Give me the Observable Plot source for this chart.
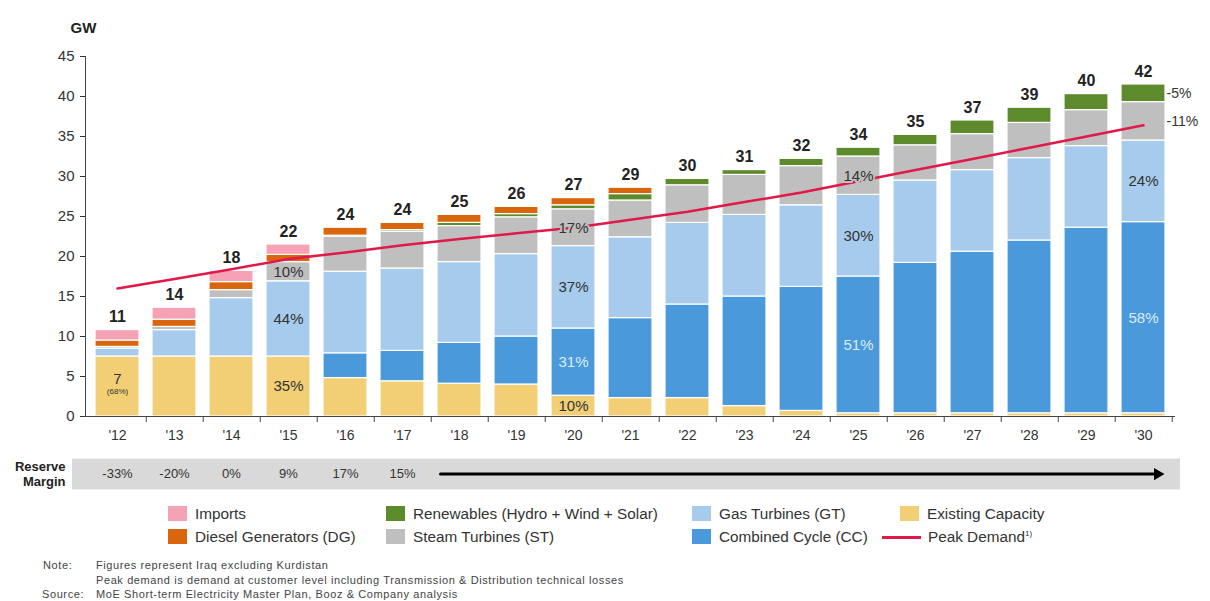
<!DOCTYPE html>
<html><head><meta charset="utf-8">
<script src="https://cdn.jsdelivr.net/npm/d3@7"></script>
<script src="https://cdn.jsdelivr.net/npm/@observablehq/plot@0.6"></script>
<style>
body{margin:0;background:#fff;font-family:Arial,"Liberation Sans",sans-serif;}
#wrap{position:relative;width:1210px;height:601px;overflow:hidden;}
#chart{position:absolute;left:0;top:0;}
.lg{position:absolute;font-size:15.3px;color:#333;white-space:nowrap;line-height:16px;}
.sw{position:absolute;width:19px;height:15px;}
.note{position:absolute;font-size:11px;letter-spacing:0.6px;color:#444;white-space:nowrap;line-height:12px;}
</style></head><body><div id="wrap"><div id="chart"></div></div>
<script>
// ---- data (GW) ----
const years = ["'12","'13","'14","'15","'16","'17","'18","'19","'20","'21","'22","'23","'24","'25","'26","'27","'28","'29","'30"];
const existing   = [7.5, 7.5, 7.5, 7.5, 4.8, 4.4, 4.1, 4.0, 2.6, 2.3, 2.3, 1.3, 0.7, 0.4, 0.4, 0.4, 0.4, 0.4, 0.4];
const combined   = [0, 0, 0, 0, 3.1, 3.8, 5.1, 6.0, 8.4, 10.0, 11.7, 13.7, 15.5, 17.1, 18.8, 20.2, 21.6, 23.2, 23.9];
const gasTurb    = [1.0, 3.3, 7.3, 9.4, 10.2, 10.3, 10.1, 10.3, 10.3, 10.1, 10.2, 10.2, 10.2, 10.2, 10.3, 10.2, 10.3, 10.2, 10.2];
const steam      = [0.2, 0.4, 1.0, 2.4, 4.4, 4.6, 4.5, 4.6, 4.6, 4.6, 4.7, 5.0, 4.9, 4.8, 4.4, 4.5, 4.4, 4.5, 4.8];
const renewables = [0, 0, 0, 0, 0.1, 0.2, 0.4, 0.4, 0.5, 0.8, 0.8, 0.6, 0.9, 1.1, 1.3, 1.7, 1.9, 2.0, 2.2];
const diesel     = [0.8, 0.9, 1.0, 0.9, 1.0, 0.9, 1.0, 0.9, 0.9, 0.8, 0, 0, 0, 0, 0, 0, 0, 0, 0];
const imports    = [1.3, 1.5, 1.4, 1.3, 0, 0, 0, 0, 0, 0, 0, 0, 0, 0, 0, 0, 0, 0, 0];
const totals     = ["11","14","18","22","24","24","25","26","27","29","30","31","32","34","35","37","39","40","42"];
const peakDemand = [16.0, 17.2, 18.4, 19.7, 20.5, 21.4, 22.2, 22.9, 23.6, 24.6, 25.6, 26.8, 28.0, 29.4, 30.8, 32.2, 33.6, 35.0, 36.4];
const reserveYears  = ["'12","'13","'14","'15","'16","'17"];
const reserveValues = ["-33%","-20%","0%","9%","17%","15%"];
const yTicks = [0,5,10,15,20,25,30,35,40,45];

const seriesNames  = ["Existing Capacity","Combined Cycle (CC)","Gas Turbines (GT)","Steam Turbines (ST)","Renewables (Hydro + Wind + Solar)","Diesel Generators (DG)","Imports"];
const seriesColors = ["#F2CE74","#4A9ADB","#A6CBEC","#BFBFBF","#5D8B2C","#D9660C","#F4A2B4"];
const seriesValues = [existing, combined, gasTurb, steam, renewables, diesel, imports];

// share labels: [year, series index, text]
const shareLabels = [
  ["'15",0,"35%"],["'15",2,"44%"],["'15",3,"10%"],
  ["'20",0,"10%"],["'20",1,"31%"],["'20",2,"37%"],["'20",3,"17%"],
  ["'25",1,"51%"],["'25",2,"30%"],["'25",3,"14%"],
  ["'30",1,"58%"],["'30",2,"24%"]
];
const sideLabels = [["'30",4,"-5%"],["'30",3,"-11%"]];

// ---- build stacked table ----
const segs = [];
const bounds = {};
years.forEach((yr, i) => {
  let base = 0;
  bounds[yr] = [];
  seriesValues.forEach((vals, k) => {
    const v = vals[i];
    bounds[yr][k] = [base, base + v];
    if (v > 0) segs.push({year: yr, k, y1: base, y2: base + v});
    base += v;
  });
  bounds[yr].total = base;
});
const mid = (yr, k) => (bounds[yr][k][0] + bounds[yr][k][1]) / 2;
const labelRows = shareLabels.map(([yr, k, t]) => ({year: yr, k, t, y: mid(yr, k)}));
const sideRows = sideLabels.map(([yr, k, t]) => ({year: yr, k, t, y: mid(yr, k)}));
const totalRows = years.map((yr, i) => ({year: yr, total: bounds[yr].total, t: totals[i]}));
const demandRows = years.map((yr, i) => ({year: yr, v: peakDemand[i]}));
const reserveRows = reserveYears.map((yr, i) => ({year: yr, t: reserveValues[i]}));

const W = 1210, ML = 85, MR = 35, PI = 0.234, PO = 0.105;
const step = (W - ML - MR) / (years.length - PI + 2 * PO);
const RY = -7.2; // reserve margin row (in GW units below axis)

const font = 'Arial, "Liberation Sans", sans-serif';
const chart = Plot.plot({
  width: W, height: 496,
  marginLeft: ML, marginRight: MR, marginTop: 56, marginBottom: 80,
  x: {domain: years, paddingInner: PI, paddingOuter: PO},
  y: {domain: [0, 45]},
  style: {fontFamily: font, fontSize: "14px", color: "#333", background: "#fff"},
  marks: [
    // reserve margin band
    Plot.ruleY([RY], {stroke: "#D9D9D9", strokeWidth: 31, insetLeft: -13, insetRight: -5}),
    Plot.text(reserveRows, {x: "year", y: () => RY, text: "t", fontSize: 13, fill: "#333"}),
    Plot.arrow([0], {x1: () => "'18", x2: () => "'30", y1: () => RY, y2: () => RY,
      insetStart: -19, insetEnd: -12, stroke: "#000", strokeWidth: 3, headLength: 0}),
    Plot.dot([0], {x: () => "'30", y: () => RY, symbol: "triangle", r: 4.5, rotate: 90, dx: 14, fill: "#000"}),
    Plot.text(["Reserve\nMargin"], {frameAnchor: "left", y: () => RY, dx: -20, textAnchor: "end",
      fontWeight: "bold", fontSize: 13, lineHeight: 1.15, fill: "#222"}),
    // bars
    Plot.barY(segs, {x: "year", y1: "y1", y2: "y2", fill: d => seriesColors[d.k], stroke: "#fff", strokeWidth: 1.2}),
    // axes
    Plot.axisY({ticks: yTicks, tickSize: 5, tickPadding: 6, fontSize: 15, label: null}),
    Plot.axisX({tickSize: 0, tickPadding: 14, fontSize: 14, label: null}),
    Plot.ruleY([0], {stroke: "#444"}),
    Plot.frame({anchor: "left", stroke: "#444"}),
    Plot.ruleX(years, {x: d => d, y1: 0, y2: -0.75, dx: step / 2, stroke: "#444"}),
    // peak demand
    Plot.line(demandRows, {x: "year", y: "v", stroke: "#E0194A", strokeWidth: 2.5}),
    // labels
    Plot.text(labelRows, {x: "year", y: "y", text: "t", fontSize: 15,
      fill: d => d.k === 1 ? "#DCEBF9" : "#333",
      stroke: d => d.k === 3 ? seriesColors[3] : "none", strokeWidth: 4}),
    Plot.text(sideRows, {x: "year", y: "y", text: "t", dx: 23, textAnchor: "start", fontSize: 14, fill: "#333"}),
    Plot.text(["7"], {x: () => "'12", y: () => 4.7, fontSize: 15, fill: "#333"}),
    Plot.text(["(68%)"], {x: () => "'12", y: () => 3.1, fontSize: 8, fill: "#333"}),
    Plot.text(totalRows, {x: "year", y: "total", text: "t", dy: -13, fontSize: 16, fontWeight: "bold", fill: "#222"}),
    Plot.text(["GW"], {frameAnchor: "top-left", dx: -15, dy: -34, textAnchor: "start", fontSize: 15, fontWeight: "bold", fill: "#222"})
  ]
});
document.getElementById("chart").appendChild(chart);

// ---- legend (HTML) ----
const wrap = document.getElementById("wrap");
const legendItems = [
  {k: 6, x: 168, row: 0}, {k: 5, x: 168, row: 1},
  {k: 4, x: 386, row: 0}, {k: 3, x: 386, row: 1},
  {k: 2, x: 692, row: 0}, {k: 1, x: 692, row: 1},
  {k: 0, x: 900, row: 0}
];
const rowY = [514, 537];
legendItems.forEach(it => {
  const sw = document.createElement("div");
  sw.className = "sw";
  sw.style.left = it.x + "px"; sw.style.top = (rowY[it.row] - 8) + "px";
  sw.style.background = seriesColors[it.k];
  wrap.appendChild(sw);
  const tx = document.createElement("div");
  tx.className = "lg";
  tx.style.left = (it.x + 27) + "px"; tx.style.top = (rowY[it.row] - 8) + "px";
  tx.textContent = seriesNames[it.k];
  wrap.appendChild(tx);
});
const ln = document.createElement("div");
ln.style.cssText = "position:absolute;left:882px;top:536px;width:39px;height:3px;background:#E0194A;";
wrap.appendChild(ln);
const pd = document.createElement("div");
pd.className = "lg"; pd.style.left = "928px"; pd.style.top = "529px";
pd.innerHTML = 'Peak Demand<sup style="font-size:8px;vertical-align:6px;line-height:0">1)</sup>';
wrap.appendChild(pd);

// ---- notes ----
const notes = [
  [43, 559, "Note:"], [96, 559, "Figures represent Iraq excluding Kurdistan"],
  [96, 574, "Peak demand is demand at customer level including Transmission & Distribution technical losses"],
  [42, 588, "Source:"], [96, 588, "MoE Short-term Electricity Master Plan, Booz & Company analysis"]
];
notes.forEach(([x, y, t]) => {
  const d = document.createElement("div");
  d.className = "note"; d.style.left = x + "px"; d.style.top = y + "px"; d.textContent = t;
  wrap.appendChild(d);
});
</script></body></html>
